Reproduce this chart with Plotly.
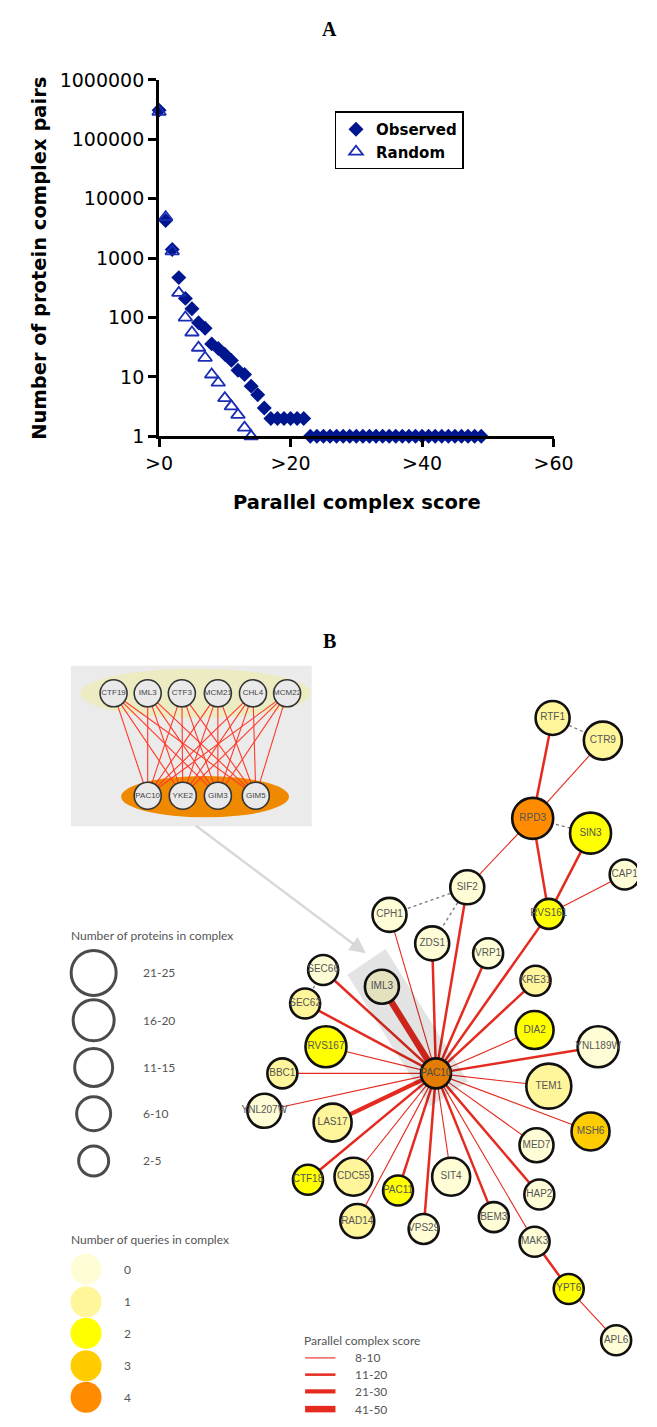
import plotly.graph_objects as go

W, H = 657, 1427

# ---------------- Panel A: distribution of parallel complex scores ----------------
score_observed = list(range(0, 50))
pairs_observed = [310000, 4300, 1400, 470, 210, 140, 82, 66, 36, 30, 24, 19, 13, 11, 7, 5, 3,
                  2, 2, 2, 2, 2, 2,
                  1, 1, 1, 1, 1, 1, 1, 1, 1, 1, 1, 1, 1, 1, 1, 1, 1, 1, 1, 1, 1, 1, 1, 1, 1, 1, 1]
score_random = list(range(0, 15))
pairs_random = [290000, 4900, 1300, 260, 100, 56, 31, 21, 11, 8, 4.4, 3.2, 2.3, 1.4, 1]

x_tickvals = [0, 20, 40, 60]
x_ticktext = [">0", ">20", ">40", ">60"]
y_tickvals = [1, 10, 100, 1000, 10000, 100000, 1000000]
y_ticktext = ["1", "10", "100", "1000", "10000", "100000", "1000000"]

# ---------------- Panel B: network of complexes around PAC10 ----------------
node_names = ["RTF1", "CTR9", "RPD3", "SIN3", "CAP1", "SIF2", "RVS161", "CPH1", "ZDS1", "VRP1",
              "SEC66", "IML3", "KRE31", "SEC62", "DIA2", "RVS167", "YNL189W", "BBC1", "PAC10",
              "TEM1", "YNL207W", "LAS17", "MSH6", "MED7", "CTF18", "CDC55", "PAC11", "SIT4",
              "HAP2", "RAD14", "VPS29", "BEM3", "MAK3", "YPT6", "APL6"]
# layout coordinates of the network
node_x = [568, 621, 547, 608, 644, 478, 564, 396, 441, 500,
          326, 388, 550, 307, 549, 329, 616, 283, 445,
          564, 264, 336, 608, 551, 310, 358, 405, 461,
          554, 362, 432, 506, 549, 585, 635]
node_y = [718, 741, 820, 835, 877, 890, 917, 918, 947, 957,
          974, 991, 985, 1008, 1035, 1052, 1052, 1079, 1079,
          1092, 1117, 1129, 1138, 1152, 1187, 1184, 1198, 1184,
          1202, 1229, 1237, 1225, 1250, 1298, 1350]
# complex size class: 0=2-5, 1=6-10, 2=11-15, 3=16-20, 4=21-25
node_size_class = [1, 2, 3, 3, 0, 1, 0, 1, 1, 0,
                   0, 1, 0, 0, 2, 3, 3, 0, 0,
                   4, 1, 2, 2, 1, 0, 2, 0, 2,
                   0, 1, 0, 0, 0, 0, 0]
# number of queries in complex
node_queries = [1, 1, 4, 2, 0, 0, 2, 0, 0, 0,
                0, 0, 1, 1, 2, 2, 0, 1, 4,
                1, 0, 1, 3, 0, 2, 1, 2, 0,
                0, 1, 0, 0, 0, 2, 0]

# edges with parallel complex score class: 0=8-10, 1=11-20, 2=21-30, 3=41-50
edge_src = ["PAC10"] * 27 + ["RVS161", "RVS161", "RVS161", "RPD3", "RPD3", "RPD3", "MAK3", "YPT6"]
edge_dst = ["IML3", "SEC66", "SEC62", "RVS167", "BBC1", "YNL207W", "LAS17", "CTF18", "CDC55",
            "RAD14", "PAC11", "VPS29", "SIT4", "BEM3", "MAK3", "HAP2", "MED7", "MSH6", "TEM1",
            "YNL189W", "DIA2", "KRE31", "RVS161", "VRP1", "ZDS1", "SIF2", "CPH1",
            "RPD3", "SIN3", "CAP1", "RTF1", "CTR9", "SIF2", "YPT6", "APL6"]
edge_class = [3, 1, 1, 0, 0, 0, 2, 1, 0,
              0, 1, 1, 0, 1, 0, 1, 0, 0, 0,
              1, 0, 1, 1, 1, 1, 1, 0,
              1, 1, 0, 1, 0, 0, 1, 0]
# physical links between complexes (dotted)
link_src = ["RTF1", "RPD3", "SIF2", "SIF2", "SEC66"]
link_dst = ["CTR9", "SIN3", "CPH1", "ZDS1", "SEC62"]

# inset: proteins of the two parallel complexes
inset_top = ["CTF19", "IML3", "CTF3", "MCM21", "CHL4", "MCM22"]
inset_top_x = [105, 141, 177, 215, 252, 288]
inset_bottom = ["PAC10", "YKE2", "GIM3", "GIM5"]
inset_bottom_x = [141, 178, 215, 255]
inset_top_y, inset_bottom_y = 693, 797

# legend categories
size_labels = ["2-5", "6-10", "11-15", "16-20", "21-25"]
query_labels = ["0", "1", "2", "3", "4"]
score_labels = ["8-10", "11-20", "21-30", "41-50"]

# styles
SIZE_PX = [30, 34, 38, 41, 45]
QUERY_COLORS = ["#FFFDD6", "#FFF59B", "#FFFF00", "#FFCC00", "#FF8C00"]
EDGE_WIDTH = [1.1, 2.5, 4.2, 6.5]
EDGE_COLOR = "#E52A1F"
NAVY = "#00168F"
LABEL_GREY = "#555555"

fig = go.Figure()

# ---- panel A traces ----
fig.add_trace(go.Scatter(
    x=score_observed, y=pairs_observed, mode="markers", name="Observed",
    marker=dict(symbol="diamond", size=11.5, color=NAVY, line=dict(width=0)),
    cliponaxis=False, xaxis="x", yaxis="y"))
fig.add_trace(go.Scatter(
    x=score_random, y=pairs_random, mode="markers", name="Random",
    marker=dict(symbol="triangle-up-open", size=12, color="#1A2DB5", line=dict(width=1.8)),
    cliponaxis=False, xaxis="x", yaxis="y"))

# ---- panel B ----
pos = {n: (x, y) for n, x, y in zip(node_names, node_x, node_y)}

# inset bipartite edges
ix, iy = [], []
for tx in inset_top_x:
    for bx in inset_bottom_x:
        ix += [tx, bx, None]
        iy += [inset_top_y, inset_bottom_y, None]
fig.add_trace(go.Scatter(x=ix, y=iy, mode="lines", line=dict(color="#FF3A2A", width=1.1),
                         hoverinfo="skip", showlegend=False, xaxis="x2", yaxis="y2"))

# dotted links
lx, ly = [], []
for s, d in zip(link_src, link_dst):
    lx += [pos[s][0], pos[d][0], None]
    ly += [pos[s][1], pos[d][1], None]
fig.add_trace(go.Scatter(x=lx, y=ly, mode="lines", line=dict(color="#7A7A7A", width=1.3, dash="dot"),
                         hoverinfo="skip", showlegend=False, xaxis="x2", yaxis="y2"))

# score-weighted edges
for c in range(4):
    ex, ey = [], []
    for s, d, k in zip(edge_src, edge_dst, edge_class):
        if k == c:
            ex += [pos[s][0], pos[d][0], None]
            ey += [pos[s][1], pos[d][1], None]
    fig.add_trace(go.Scatter(x=ex, y=ey, mode="lines", line=dict(color=EDGE_COLOR, width=EDGE_WIDTH[c]),
                             hoverinfo="skip", showlegend=False, xaxis="x2", yaxis="y2"))

# network nodes
fig.add_trace(go.Scatter(
    x=node_x, y=node_y, mode="markers+text", text=node_names, textposition="middle center",
    textfont=dict(family="Liberation Sans", size=10, color=LABEL_GREY),
    marker=dict(size=[SIZE_PX[k] for k in node_size_class],
                color=[QUERY_COLORS[q] for q in node_queries],
                line=dict(color="#111111", width=2.6), opacity=1),
    hoverinfo="text", showlegend=False, xaxis="x2", yaxis="y2"))

# inset nodes
fig.add_trace(go.Scatter(
    x=inset_top_x + inset_bottom_x,
    y=[inset_top_y] * len(inset_top_x) + [inset_bottom_y] * len(inset_bottom_x),
    mode="markers+text", text=inset_top + inset_bottom, textposition="middle center",
    textfont=dict(family="Liberation Sans", size=8, color="#444444"),
    marker=dict(size=27, color="#E9E9E9", line=dict(color="#333333", width=1.6)),
    hoverinfo="text", showlegend=False, xaxis="x2", yaxis="y2"))

# legend: complex size
size_leg_y = [1168, 1120, 1073, 1025, 977]
fig.add_trace(go.Scatter(
    x=[84] * 5, y=size_leg_y, mode="markers",
    marker=dict(size=SIZE_PX, color="white", line=dict(color="black", width=3)),
    hoverinfo="skip", showlegend=False, xaxis="x2", yaxis="y2"))
# legend: number of queries
query_leg_y = [1278, 1311, 1343, 1376, 1408]
fig.add_trace(go.Scatter(
    x=[76] * 5, y=query_leg_y, mode="markers",
    marker=dict(size=31, color=QUERY_COLORS, line=dict(width=0)),
    hoverinfo="skip", showlegend=False, xaxis="x2", yaxis="y2"))
# legend: edge score
score_leg_y = [1368, 1385, 1402, 1420]
for c, yy in enumerate(score_leg_y):
    fig.add_trace(go.Scatter(x=[307, 339], y=[yy, yy], mode="lines",
                             line=dict(color=EDGE_COLOR, width=EDGE_WIDTH[c]),
                             hoverinfo="skip", showlegend=False, xaxis="x2", yaxis="y2"))

annotations = []


def paper_text(t, x, y, size, family="DejaVu Sans", angle=0):
    annotations.append(dict(text=t, x=x / W, y=1 - y / H, xref="paper", yref="paper",
                            xanchor="center", yanchor="middle", textangle=angle,
                            showarrow=False, font=dict(family=family, size=size, color="black")))


# panel letters
paper_text("<b>A</b>", 333, 18, 20, family="Liberation Serif")
paper_text("<b>B</b>", 333, 640, 20, family="Liberation Serif")
# panel A axis titles
paper_text("<b>Number of protein complex pairs</b>", 26, 251, 19.5, angle=-90)
paper_text("<b>Parallel complex score</b>", 362, 499, 19.5)

leg_font = dict(family="Lato", size=12, color=LABEL_GREY)


def leg_text(t, x, y):
    annotations.append(dict(text=t, x=x, y=y, xref="x2", yref="y2", xanchor="left",
                            yanchor="middle", showarrow=False, font=leg_font))


leg_text("Number of proteins in complex", 58, 939)
for lab, yy in zip(size_labels, size_leg_y):
    leg_text(lab, 134, yy)
leg_text("Number of queries in complex", 58, 1248)
for lab, yy in zip(query_labels, query_leg_y):
    leg_text(lab, 114, yy)
leg_text("Parallel complex score", 304, 1350)
for lab, yy in zip(score_labels, score_leg_y):
    leg_text(lab, 357, yy)

# arrow from inset to highlighted IML3-PAC10 pair
annotations.append(dict(text="", x=371, y=957, ax=190, ay=826, xref="x2", yref="y2",
                        axref="x2", ayref="y2", showarrow=True, arrowhead=2, arrowsize=1.3,
                        arrowwidth=2.5, arrowcolor="#D8D8D8"))

# highlight band along IML3 -> PAC10
(ax_, ay_), (bx_, by_) = pos["IML3"], pos["PAC10"]
L = ((bx_ - ax_) ** 2 + (by_ - ay_) ** 2) ** 0.5
dx, dy = (bx_ - ax_) / L, (by_ - ay_) / L
nx, ny = dy, -dx
hw, pre, post = 24, 30, 25
sx, sy = ax_ - dx * pre, ay_ - dy * pre
fx, fy = bx_ + dx * post, by_ + dy * post
band = (f"M {sx + nx * hw} {sy + ny * hw} L {fx + nx * hw} {fy + ny * hw} "
        f"L {fx - nx * hw} {fy - ny * hw} L {sx - nx * hw} {sy - ny * hw} Z")

shapes = [
    dict(type="rect", xref="x2", yref="y2", x0=60, x1=314, y0=665, y1=828,
         fillcolor="#EBEBEB", line=dict(width=0), layer="below"),
    dict(type="circle", xref="x2", yref="y2", x0=70, x1=313, y0=668, y1=718,
         fillcolor="#EDEBC2", line=dict(width=0), layer="below"),
    dict(type="circle", xref="x2", yref="y2", x0=113, x1=290, y0=777, y1=819,
         fillcolor="#EF8A00", line=dict(width=0), layer="below"),
    dict(type="path", xref="x2", yref="y2", path=band,
         fillcolor="rgba(0,0,0,0.11)", line=dict(width=0), layer="above"),
]

fig.update_layout(
    width=W, height=H, margin=dict(l=0, r=0, t=0, b=0),
    paper_bgcolor="white", plot_bgcolor="rgba(0,0,0,0)",
    font=dict(family="DejaVu Sans", color="black"),
    xaxis=dict(domain=[153 / W, 569 / W], range=[0, 60], anchor="y",
               tickvals=x_tickvals, ticktext=x_ticktext, tickfont=dict(size=19),
               showline=True, linecolor="black", linewidth=3, ticks="outside",
               ticklen=8, tickwidth=3, tickcolor="black", showgrid=False, zeroline=False),
    yaxis=dict(domain=[1 - 432 / H, 1 - 70 / H], type="log", range=[0, 6], anchor="x",
               tickvals=y_tickvals, ticktext=y_ticktext, tickfont=dict(size=19),
               showline=True, linecolor="black", linewidth=3, ticks="outside",
               ticklen=8, tickwidth=3, tickcolor="black", showgrid=False, zeroline=False),
    xaxis2=dict(domain=[0, 1], range=[0, W], anchor="y2", visible=False),
    yaxis2=dict(domain=[0, 1 - 600 / H], range=[H, 600], anchor="x2", visible=False),
    legend=dict(x=338 / W, y=1 - 102 / H, xanchor="left", yanchor="top",
                bgcolor="white", bordercolor="black", borderwidth=1.5,
                font=dict(family="DejaVu Sans", size=15, color="black", weight="bold"),
                itemwidth=30, tracegroupgap=0),
    showlegend=True,
    annotations=annotations,
    shapes=shapes,
)

fig.write_html("out.html")
